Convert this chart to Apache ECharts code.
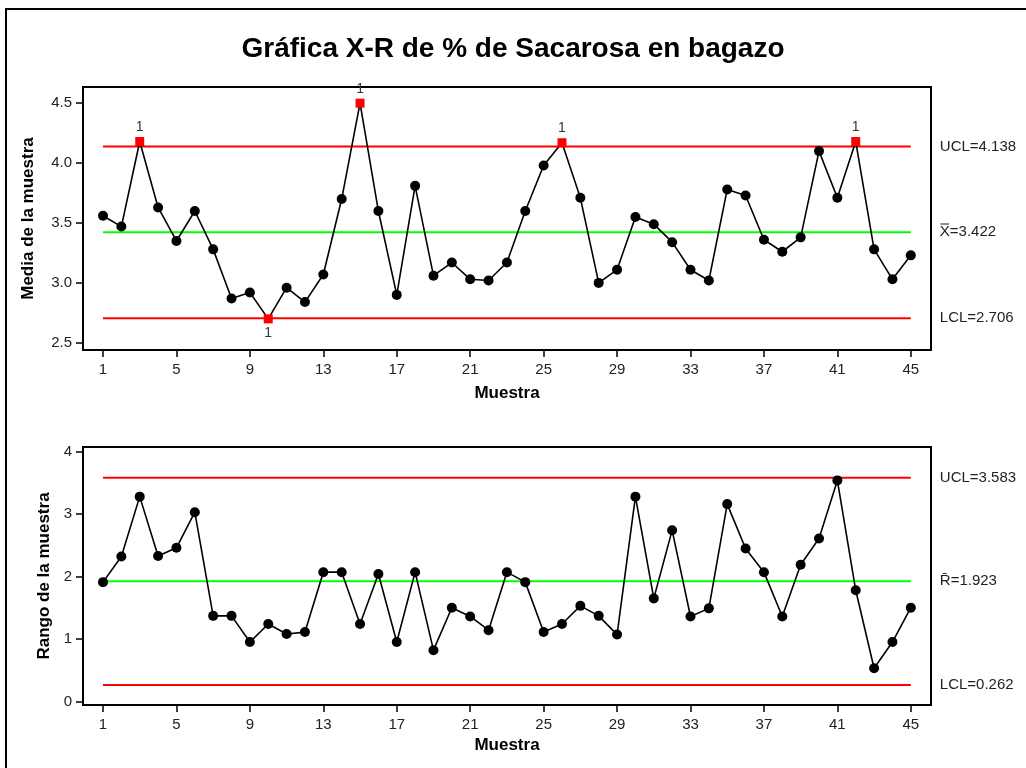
<!DOCTYPE html>
<html>
<head>
<meta charset="utf-8">
<script src="https://cdn.jsdelivr.net/npm/echarts@6/dist/echarts.min.js"></script>
<style>
html,body{margin:0;padding:0;background:#fff;}
#chart{width:1026px;height:768px;}
</style>
</head>
<body>
<div id="chart"></div>
<script>
// ---- data ----
const samples = [1,2,3,4,5,6,7,8,9,10,11,12,13,14,15,16,17,18,19,20,21,22,23,24,25,26,27,28,29,30,31,32,33,34,35,36,37,38,39,40,41,42,43,44,45];
const xbarValues = [3.56,3.47,4.18,3.63,3.35,3.60,3.28,2.87,2.92,2.70,2.96,2.84,3.07,3.70,4.50,3.60,2.90,3.81,3.06,3.17,3.03,3.02,3.17,3.60,3.98,4.17,3.71,3.00,3.11,3.55,3.49,3.34,3.11,3.02,3.78,3.73,3.36,3.26,3.38,4.10,3.71,4.18,3.28,3.03,3.23];
const rangeValues = [1.91,2.32,3.28,2.33,2.46,3.03,1.37,1.37,0.95,1.24,1.08,1.11,2.07,2.07,1.24,2.04,0.95,2.07,0.82,1.50,1.36,1.14,2.07,1.91,1.11,1.24,1.53,1.37,1.07,3.28,1.65,2.74,1.36,1.49,3.16,2.45,2.07,1.36,2.19,2.61,3.54,1.78,0.53,0.95,1.50];
const xbarLimits = [4.138, 3.422, 2.706];   // UCL, center, LCL
const rangeLimits = [3.583, 1.923, 0.262];
const xbarLimitLabels = ['UCL=4.138', 'X\u033F=3.422', 'LCL=2.706'];
const rangeLimitLabels = ['UCL=3.583', 'R\u0304=1.923', 'LCL=0.262'];
const flaggedXbar = [3, 10, 15, 26, 42];
const flagText = '1';
const xTicks = [1,5,9,13,17,21,25,29,33,37,41,45];
const yTicksXbar = [2.5,3.0,3.5,4.0,4.5];
const yTicksRange = [0,1,2,3,4];
const titleText = 'Gráfica X-R de % de Sacarosa en bagazo';

const FONT = 'Liberation Sans, Arial, sans-serif';
const RED = '#ff0000', GREEN = '#00ff00';

function xAxisCfg(idx){
  return {
    type:'value', gridIndex:idx, min:-0.09, max:46.1,
    name:'Muestra', nameLocation:'middle', nameGap: idx===0?35:32,
    nameTextStyle:{fontFamily:FONT,fontSize:17,fontWeight:'bold',color:'#000'},
    splitLine:{show:false},
    axisLine:{show:true,onZero:false,lineStyle:{color:'#000',width:2}},
    axisTick:{show:true,length:7,customValues:xTicks,lineStyle:{color:'#000',width:1.5}},
    axisLabel:{customValues:xTicks,margin:12,fontFamily:FONT,fontSize:15,color:'#222'}
  };
}
function yAxisCfg(idx, min, max, ticks, name, gap, dec){
  return {
    type:'value', gridIndex:idx, min:min, max:max,
    name:name, nameLocation:'middle', nameGap:gap,
    nameTextStyle:{fontFamily:FONT,fontSize:17,fontWeight:'bold',color:'#000'},
    splitLine:{show:false},
    axisLine:{show:true,onZero:false,lineStyle:{color:'#000',width:2}},
    axisTick:{show:true,length:7,customValues:ticks,lineStyle:{color:'#000',width:1.5}},
    axisLabel:{customValues:ticks,margin:11,fontFamily:FONT,fontSize:15,color:'#222',
      formatter:v=>v.toFixed(dec)}
  };
}

function limitSeries(xi, yi, limits, labels){
  const colors = [RED, GREEN, RED];
  return limits.map((v,k)=>({
    type:'line', xAxisIndex:xi, yAxisIndex:yi, z:1,
    symbol:'none', silent:true, animation:false,
    lineStyle:{color:colors[k],width:2},
    data:[[samples[0],v],[samples[samples.length-1],v]],
    endLabel:{show:true,formatter:labels[k],fontFamily:FONT,fontSize:15,color:'#222',distance:29}
  }));
}

const xbarData = xbarValues.map((v,i)=>{
  const s = samples[i];
  if (flaggedXbar.indexOf(s) >= 0) {
    return {value:[s,v], symbol:'rect', symbolSize:9,
      itemStyle:{color:RED},
      label:{show:true, formatter:flagText, position: v < xbarLimits[2] ? 'bottom' : 'top',
        distance:3, fontFamily:FONT, fontSize:14, color:'#333'}};
  }
  return [s,v];
});
const rangeData = rangeValues.map((v,i)=>[samples[i],v]);

const option = {
  animation:false,
  backgroundColor:'#fff',
  title:{text:titleText,left:'center',top:30,
    textStyle:{fontFamily:FONT,fontSize:28,fontWeight:'bold',color:'#000'}},
  graphic:[{type:'rect',shape:{x:6,y:9,width:1040,height:780},
    style:{fill:'none',stroke:'#000',lineWidth:2},silent:true}],
  grid:[
    {left:83,top:87,width:848,height:263,show:true,borderColor:'#000',borderWidth:2},
    {left:83,top:447,width:848,height:258,show:true,borderColor:'#000',borderWidth:2}
  ],
  xAxis:[xAxisCfg(0), xAxisCfg(1)],
  yAxis:[
    yAxisCfg(0, 2.44, 4.635, yTicksXbar, 'Media de la muestra', 46, 1),
    yAxisCfg(1, -0.058, 4.075, yTicksRange, 'Rango de la muestra', 30, 0)
  ],
  series:[
    ...limitSeries(0,0,xbarLimits,xbarLimitLabels),
    ...limitSeries(1,1,rangeLimits,rangeLimitLabels),
    {type:'line', xAxisIndex:0, yAxisIndex:0, z:5, data:xbarData,
     symbol:'circle', symbolSize:10, showAllSymbol:true,
     itemStyle:{color:'#000'}, lineStyle:{color:'#000',width:1.6}},
    {type:'line', xAxisIndex:1, yAxisIndex:1, z:5, data:rangeData,
     symbol:'circle', symbolSize:10, showAllSymbol:true,
     itemStyle:{color:'#000'}, lineStyle:{color:'#000',width:1.6}}
  ]
};

const chart = echarts.init(document.getElementById('chart'), null, {renderer:'canvas'});
chart.setOption(option);
</script>
</body>
</html>
